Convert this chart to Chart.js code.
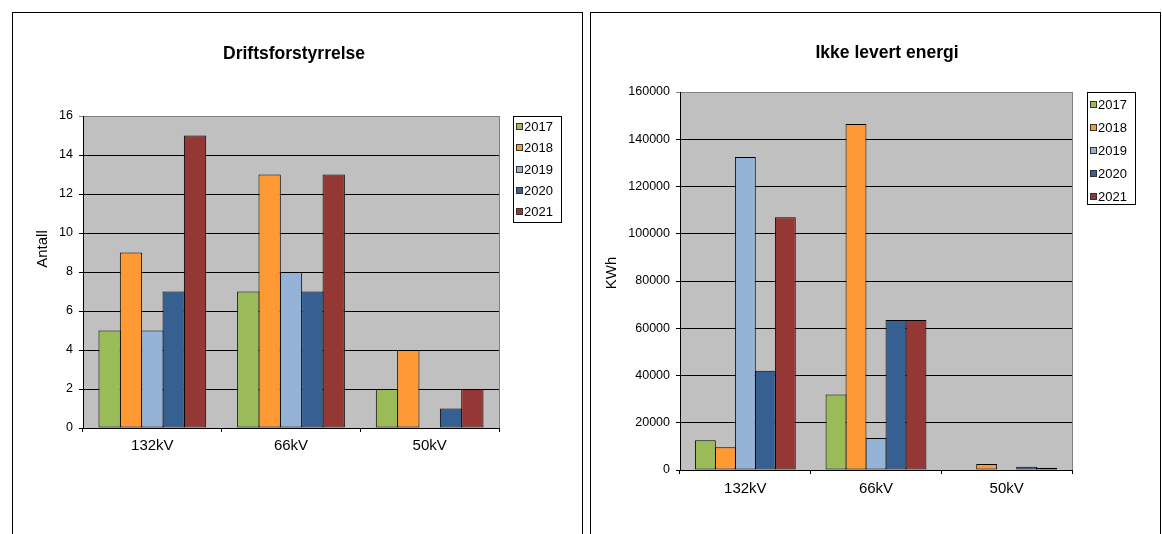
<!DOCTYPE html>
<html>
<head>
<meta charset="utf-8">
<script src="https://cdn.jsdelivr.net/npm/chart.js@4.4.1/dist/chart.umd.min.js"></script>
<style>
  html, body { margin: 0; padding: 0; background: #fff; }
  body { width: 1162px; height: 534px; overflow: hidden; position: relative; }
  .panel { position: absolute; top: 12px; width: 571px; height: 540px; border: 1px solid #000; box-sizing: border-box; background: #fff; }
  #p1 { left: 12px; }
  #p2 { left: 590px; }
  canvas { position: absolute; left: 0; top: 0; }
</style>
</head>
<body>
<div class="panel" id="p1"><canvas id="c1" width="568" height="521"></canvas></div>
<div class="panel" id="p2"><canvas id="c2" width="568" height="521"></canvas></div>
<script>
// Voltage levels and years
const categories = ['132kV', '66kV', '50kV'];
const years = ['2017', '2018', '2019', '2020', '2021'];
const yearColors = ['#9BBB59', '#FF9933', '#95B3D7', '#366092', '#953735'];

// Driftsforstyrrelse – number of disturbances per voltage level
const antall2017 = [5, 7, 2];
const antall2018 = [9, 13, 4];
const antall2019 = [5, 8, 0];
const antall2020 = [7, 7, 1];
const antall2021 = [15, 13, 2];
const antallTicks = [0, 2, 4, 6, 8, 10, 12, 14, 16];

// Ikke levert energi – KWh per voltage level
const energi2017 = [12600, 32000, 0];
const energi2018 = [9600, 146500, 2500];
const energi2019 = [132500, 13500, 0];
const energi2020 = [42000, 63500, 1400];
const energi2021 = [107000, 63500, 1000];
const energiTicks = [0, 20000, 40000, 60000, 80000, 100000, 120000, 140000, 160000];

const FONT = '"Liberation Sans", Arial, sans-serif';

// Grey plot area, right frame, title, rotated axis title and boxed legend
const frameDecor = {
  id: 'frameDecor',
  beforeDraw(chart, args, o) {
    const { ctx, chartArea: a } = chart;
    ctx.save();
    ctx.fillStyle = o.plotColor;
    ctx.fillRect(a.left, a.top, a.right - a.left, a.bottom - a.top);
    ctx.restore();
  },
  afterDraw(chart, args, o) {
    const { ctx, chartArea: a } = chart;
    ctx.save();
    ctx.strokeStyle = '#808080';
    ctx.lineWidth = 1;
    ctx.beginPath();
    ctx.moveTo(Math.round(a.right) + 0.5, a.top);
    ctx.lineTo(Math.round(a.right) + 0.5, a.bottom);
    ctx.stroke();

    ctx.fillStyle = '#000';
    ctx.textAlign = 'center';
    ctx.textBaseline = 'middle';
    ctx.font = 'bold ' + o.titleSize + 'px ' + FONT;
    ctx.fillText(o.title, o.titleX, o.titleY);

    ctx.save();
    ctx.translate(o.axisX, o.axisY);
    ctx.rotate(-Math.PI / 2);
    ctx.font = '15px ' + FONT;
    ctx.fillText(o.axisTitle, 0, 0);
    ctx.restore();

    const L = o.legend;
    ctx.fillStyle = '#fff';
    ctx.fillRect(L.x, L.y, L.w, L.h);
    ctx.strokeStyle = '#000';
    ctx.strokeRect(L.x + 0.5, L.y + 0.5, L.w, L.h);
    ctx.font = '13px ' + FONT;
    ctx.textAlign = 'left';
    chart.data.datasets.forEach((ds, i) => {
      const cy = Math.round(L.y + L.first + i * L.step);
      ctx.fillStyle = ds.backgroundColor;
      ctx.fillRect(L.x + L.markX, cy - 3, 7, 7);
      ctx.strokeStyle = '#333';
      ctx.strokeRect(L.x + L.markX + 0.5, cy - 2.5, 6, 6);
      ctx.fillStyle = '#000';
      ctx.fillText(ds.label, L.x + L.textX, cy + 1);
    });
    ctx.restore();
  }
};

function makeDatasets(series, groupShare) {
  return series.map((values, i) => ({
    label: years[i],
    data: values,
    backgroundColor: yearColors[i],
    borderColor: '#000',
    borderWidth: c => (c.raw ? 1 : 0),
    borderSkipped: false,
    categoryPercentage: groupShare,
    barPercentage: 1.045
  }));
}

function makeChart(id, series, ticks, groupShare, yWidth, padding, decor, tickPad) {
  const top = ticks[ticks.length - 1];
  return new Chart(document.getElementById(id), {
    type: 'bar',
    data: { labels: categories, datasets: makeDatasets(series, groupShare) },
    options: {
      responsive: false,
      animation: false,
      events: [],
      layout: { padding: padding },
      plugins: {
        legend: { display: false },
        title: { display: false },
        tooltip: { enabled: false },
        frameDecor: decor
      },
      scales: {
        x: {
          afterFit: s => { s.height = 40; },
          border: { color: '#000', width: 1 },
          grid: { drawOnChartArea: false, drawTicks: true, tickLength: 4, color: '#000', offset: true },
          ticks: { color: '#000', font: { family: FONT, size: 15 }, padding: tickPad }
        },
        y: {
          min: ticks[0],
          max: top,
          afterBuildTicks: s => { s.ticks = ticks.map(v => ({ value: v })); },
          afterFit: s => { s.width = yWidth; },
          border: { color: '#000', width: 1 },
          grid: {
            color: c => (c.tick && c.tick.value === top ? '#808080' : '#000'),
            tickLength: 4,
            drawTicks: true
          },
          ticks: { color: '#000', font: { family: FONT, size: 12.5 }, padding: 6, callback: v => String(v) }
        }
      }
    },
    plugins: [frameDecor]
  });
}

makeChart('c1',
  [antall2017, antall2018, antall2019, antall2020, antall2021],
  antallTicks, 0.77, 70, { top: 103, right: 82, bottom: 66, left: 0 },
  {
    plotColor: '#C0C0C0',
    title: 'Driftsforstyrrelse', titleSize: 17.5, titleX: 281, titleY: 41,
    axisTitle: 'Antall', axisX: 30, axisY: 236,
    legend: { x: 500, y: 103, w: 48, h: 106, first: 10, step: 21.3, markX: 3, textX: 11 }
  }, 5);

makeChart('c2',
  [energi2017, energi2018, energi2019, energi2020, energi2021],
  energiTicks, 0.765, 89, { top: 79, right: 87, bottom: 24, left: 0 },
  {
    plotColor: '#C0C0C0',
    title: 'Ikke levert energi', titleSize: 17.5, titleX: 296, titleY: 40,
    axisTitle: 'KWh', axisX: 21, axisY: 260,
    legend: { x: 496, y: 79, w: 48, h: 112, first: 11.6, step: 23.2, markX: 3, textX: 11 }
  }, 6);
</script>
</body>
</html>
